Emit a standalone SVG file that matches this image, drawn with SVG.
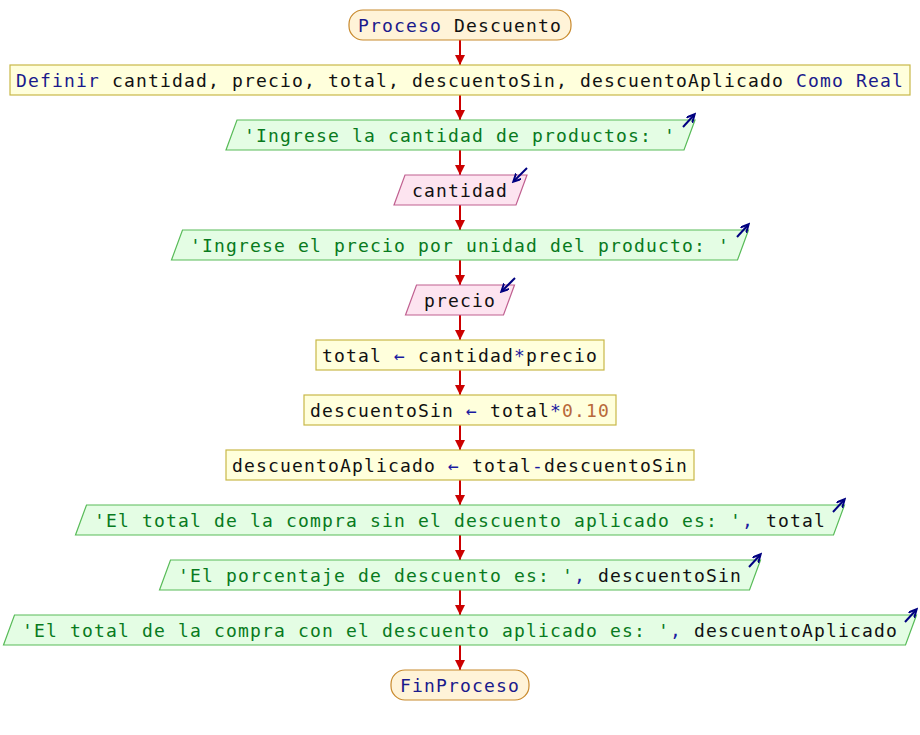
<svg xmlns="http://www.w3.org/2000/svg" width="920" height="735" viewBox="0 0 920 735">
<style>
text{font-family:"DejaVu Sans Mono","Liberation Mono",monospace;font-size:18px;letter-spacing:1.16px;text-anchor:middle;fill:#111}
.term{fill:#fff3d8;stroke:#c8892c;stroke-width:1.2}
.proc{fill:#ffffdc;stroke:#c8b848;stroke-width:1.2}
.out{fill:#e4fde4;stroke:#58bb58;stroke-width:1.2}
.in{fill:#fde4f0;stroke:#c06090;stroke-width:1.2}
.kw{fill:#1a1a8c}
.str{fill:#087a20}
.op{fill:#1a1aa0}
.num{fill:#b8683a}
.conn line{stroke:#cc0000;stroke-width:2}
.icon{stroke:#000080;stroke-width:2;fill:none}
</style>
<defs>
<marker id="ah" markerUnits="userSpaceOnUse" markerWidth="12" markerHeight="10" refX="10" refY="5" orient="auto">
<path d="M0,0 L10,5 L0,10 Z" fill="#cc0000"/>
</marker>
<marker id="ih" markerUnits="userSpaceOnUse" markerWidth="10" markerHeight="10" refX="7" refY="4" orient="auto">
<path d="M0,0 L8,4 L0,8" fill="none" stroke="#000080" stroke-width="2"/>
</marker>
</defs>
<g class="conn">
<line x1="460" y1="40" x2="460" y2="65" marker-end="url(#ah)"/>
<line x1="460" y1="95" x2="460" y2="120" marker-end="url(#ah)"/>
<line x1="460" y1="150" x2="460" y2="175" marker-end="url(#ah)"/>
<line x1="460" y1="205" x2="460" y2="230" marker-end="url(#ah)"/>
<line x1="460" y1="260" x2="460" y2="285" marker-end="url(#ah)"/>
<line x1="460" y1="315" x2="460" y2="340" marker-end="url(#ah)"/>
<line x1="460" y1="370" x2="460" y2="395" marker-end="url(#ah)"/>
<line x1="460" y1="425" x2="460" y2="450" marker-end="url(#ah)"/>
<line x1="460" y1="480" x2="460" y2="505" marker-end="url(#ah)"/>
<line x1="460" y1="535" x2="460" y2="560" marker-end="url(#ah)"/>
<line x1="460" y1="590" x2="460" y2="615" marker-end="url(#ah)"/>
<line x1="460" y1="645" x2="460" y2="670" marker-end="url(#ah)"/>
</g>
<g id="inicio">
<rect class="term" x="349" y="10" width="222" height="30" rx="14"/>
<text x="460" y="31.5"><tspan class="kw">Proceso</tspan> Descuento</text>
</g>
<g id="definir">
<rect class="proc" x="10" y="65" width="900" height="30"/>
<text x="460" y="86.5"><tspan class="kw">Definir</tspan> cantidad, precio, total, descuentoSin, descuentoAplicado <tspan class="kw">Como Real</tspan></text>
</g>
<g id="escribir1">
<polygon class="out" points="237,120 695,120 684,150 226,150"/>
<text x="460" y="141.5" class="str">'Ingrese la cantidad de productos: '</text>
<line class="icon" x1="683" y1="127" x2="694" y2="115" marker-end="url(#ih)"/>
</g>
<g id="leer1">
<polygon class="in" points="405,175 527,175 516,205 394,205"/>
<text x="460" y="196.5">cantidad</text>
<line class="icon" x1="527" y1="168" x2="514" y2="181" marker-end="url(#ih)"/>
</g>
<g id="escribir2">
<polygon class="out" points="182.5,230 748.5,230 737.5,260 171.5,260"/>
<text x="460" y="251.5" class="str">'Ingrese el precio por unidad del producto: '</text>
<line class="icon" x1="737" y1="237" x2="748" y2="225" marker-end="url(#ih)"/>
</g>
<g id="leer2">
<polygon class="in" points="416.5,285 514.5,285 503.5,315 405.5,315"/>
<text x="460" y="306.5">precio</text>
<line class="icon" x1="515" y1="278" x2="502" y2="291" marker-end="url(#ih)"/>
</g>
<g id="asig1">
<rect class="proc" x="316" y="340" width="288" height="30"/>
<text x="460" y="361.5">total <tspan class="op">←</tspan> cantidad<tspan class="op">*</tspan>precio</text>
</g>
<g id="asig2">
<rect class="proc" x="304" y="395" width="312" height="30"/>
<text x="460" y="416.5">descuentoSin <tspan class="op">←</tspan> total<tspan class="op">*</tspan><tspan class="num">0.10</tspan></text>
</g>
<g id="asig3">
<rect class="proc" x="226" y="450" width="468" height="30"/>
<text x="460" y="471.5">descuentoAplicado <tspan class="op">←</tspan> total<tspan class="op">-</tspan>descuentoSin</text>
</g>
<g id="escribir3">
<polygon class="out" points="86.5,505 844.5,505 833.5,535 75.5,535"/>
<text x="460" y="526.5"><tspan class="str">'El total de la compra sin el descuento aplicado es: '</tspan><tspan class="op">,</tspan> total</text>
<line class="icon" x1="833" y1="512" x2="844" y2="500" marker-end="url(#ih)"/>
</g>
<g id="escribir4">
<polygon class="out" points="170.5,560 760.5,560 749.5,590 159.5,590"/>
<text x="460" y="581.5"><tspan class="str">'El porcentaje de descuento es: '</tspan><tspan class="op">,</tspan> descuentoSin</text>
<line class="icon" x1="749" y1="567" x2="760" y2="555" marker-end="url(#ih)"/>
</g>
<g id="escribir5">
<polygon class="out" points="14.5,615 916.5,615 905.5,645 3.5,645"/>
<text x="460" y="636.5"><tspan class="str">'El total de la compra con el descuento aplicado es: '</tspan><tspan class="op">,</tspan> descuentoAplicado</text>
<line class="icon" x1="905" y1="622" x2="916" y2="610" marker-end="url(#ih)"/>
</g>
<g id="fin">
<rect class="term" x="391" y="670" width="138" height="30" rx="14"/>
<text x="460" y="691.5" class="kw">FinProceso</text>
</g>
</svg>
